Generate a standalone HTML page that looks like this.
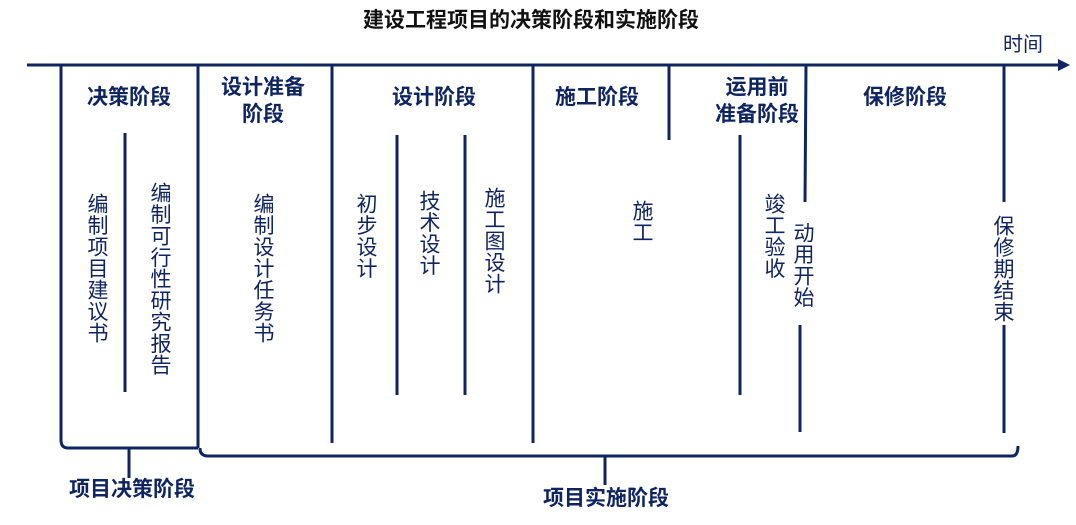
<!DOCTYPE html>
<html><head><meta charset="utf-8"><style>
body{margin:0;width:1076px;height:525px;background:#fff;position:relative;overflow:hidden;font-family:"Liberation Sans","Noto Sans CJK SC",sans-serif;color:#0f2562}
.h{position:absolute;font-weight:bold;font-size:21px;line-height:27px;text-align:center;transform:translateX(-50%);white-space:nowrap}
.v{position:absolute;writing-mode:vertical-rl;font-size:21px;line-height:24px;width:24px;letter-spacing:0.5px}
svg{position:absolute;left:0;top:0}
</style></head><body>
<svg width="1076" height="525">
<g stroke="#0f2562" stroke-width="3" fill="none">
<line x1="27" y1="65" x2="1060" y2="65"/>
<line x1="61" y1="65" x2="61" y2="440"/>
<line x1="198" y1="65" x2="198" y2="448"/>
<line x1="332" y1="65" x2="332" y2="443"/>
<line x1="533" y1="65" x2="533" y2="443"/>
<line x1="669" y1="65" x2="669" y2="140"/>
<line x1="806" y1="65" x2="805" y2="202"/>
<line x1="800" y1="325" x2="800" y2="432"/>
<line x1="1004" y1="65" x2="1004" y2="202"/>
<line x1="1004" y1="325" x2="1004" y2="433"/>
<line x1="125" y1="133" x2="125" y2="392"/>
<line x1="397" y1="135" x2="397" y2="395"/>
<line x1="465" y1="135" x2="465" y2="395"/>
<line x1="740" y1="135" x2="740" y2="395"/>
<path d="M61 440 Q61 448 68 448 L198 448"/>
<line x1="129" y1="448" x2="129" y2="478"/>
<path d="M200 448 Q200 456 208 456 L1012 456 Q1018 456 1018 446"/>
<line x1="605" y1="456" x2="605" y2="485"/>
</g>
<polygon points="1058,59 1070,65 1058,71" fill="#0f2562"/>
</svg>
<div class="h" style="left:531px;top:7px;color:#111">建设工程项目的决策阶段和实施阶段</div>
<div class="h" style="left:1023px;top:32px;font-weight:normal;font-size:20px">时间</div>
<div class="h" style="left:129px;top:84px">决策阶段</div>
<div class="h" style="left:263px;top:74px">设计准备<br>阶段</div>
<div class="h" style="left:434px;top:84px">设计阶段</div>
<div class="h" style="left:597px;top:84px">施工阶段</div>
<div class="h" style="left:757px;top:74px">运用前<br>准备阶段</div>
<div class="h" style="left:905px;top:84px">保修阶段</div>
<div class="h" style="left:132px;top:476px">项目决策阶段</div>
<div class="h" style="left:606px;top:485px">项目实施阶段</div>
<div class="v" style="left:84px;top:193px">编制项目建议书</div>
<div class="v" style="left:147px;top:182px">编制可行性研究报告</div>
<div class="v" style="left:250px;top:193px">编制设计任务书</div>
<div class="v" style="left:353px;top:193px">初步设计</div>
<div class="v" style="left:416px;top:190px">技术设计</div>
<div class="v" style="left:481px;top:187px">施工图设计</div>
<div class="v" style="left:629px;top:200px">施工</div>
<div class="v" style="left:761px;top:193px">竣工验收</div>
<div class="v" style="left:790px;top:222px">动用开始</div>
<div class="v" style="left:990px;top:215px">保修期结束</div>
</body></html>
